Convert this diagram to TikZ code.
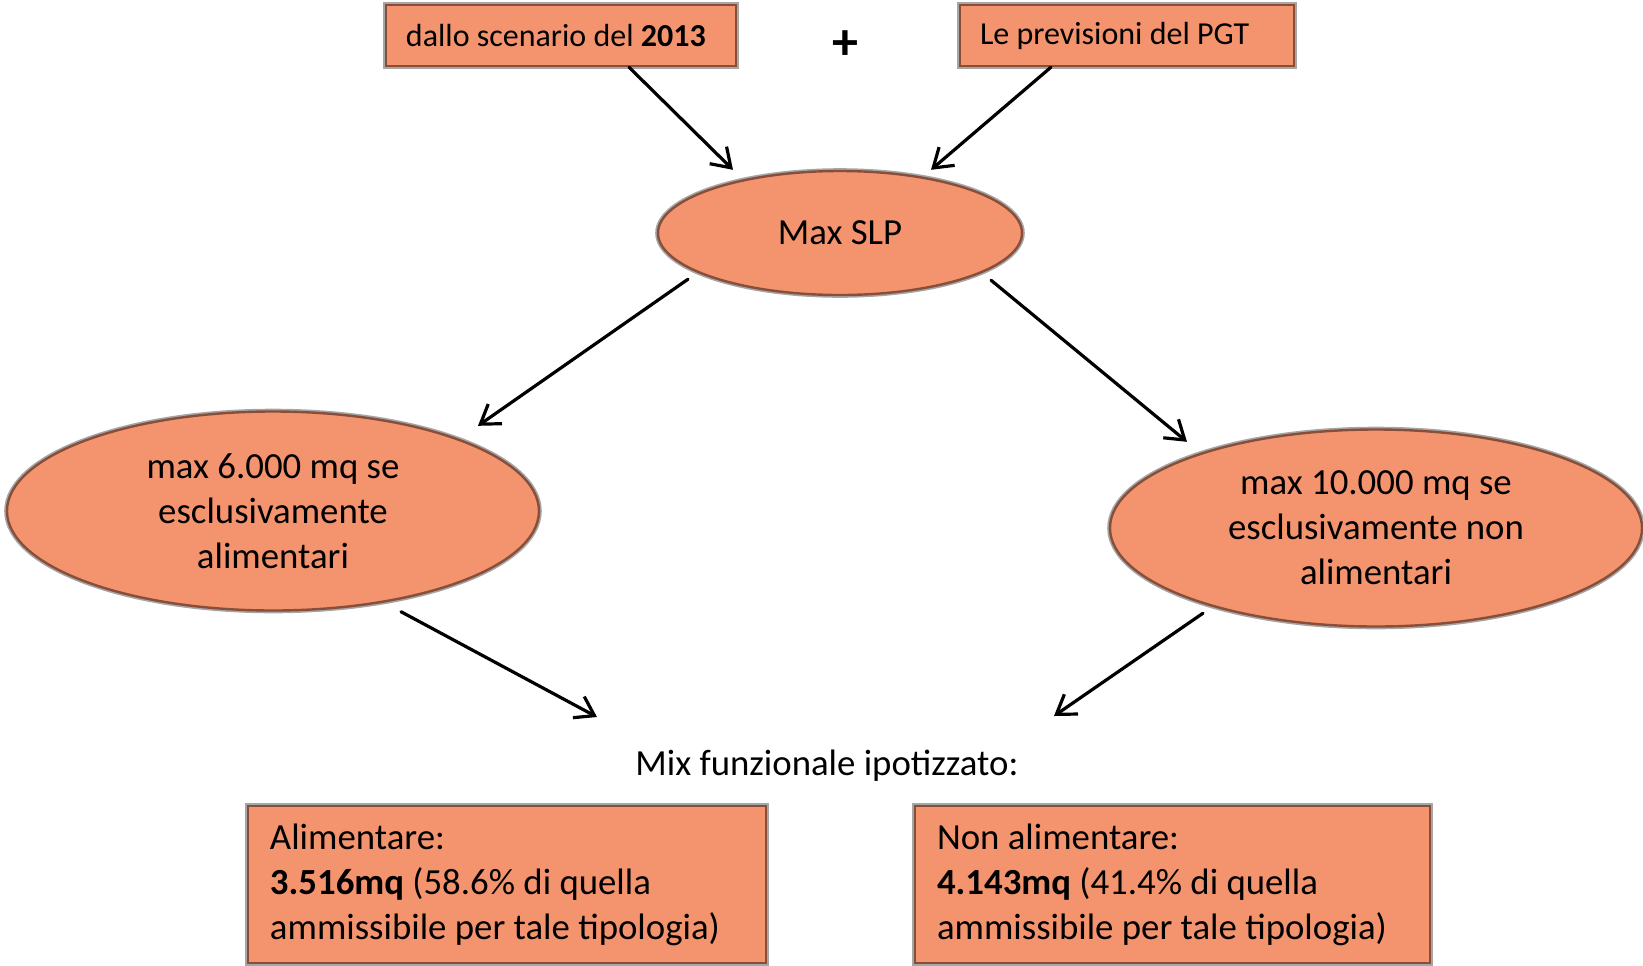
\documentclass[tikz,border=0pt]{standalone}
\usepackage{fontspec}
\setmainfont{Carlito}
\usetikzlibrary{positioning,arrows.meta,shapes.geometric}
\definecolor{salmon}{RGB}{244,148,110}
\definecolor{rim}{RGB}{135,78,58}

\begin{document}
\begin{tikzpicture}[
  on grid,
  font=\fontsize{18.4pt}{22.5pt}\selectfont,
  shaded/.style={fill=salmon, draw=rim, line width=1.2pt,
    preaction={draw=gray!70, line width=2.8pt}},
  ell/.style={shaded, ellipse, inner sep=0pt, align=center},
  box/.style={shaded, rectangle, inner ysep=0pt, inner xsep=10pt, align=flush left,
    execute at begin node={\spaceskip=0pt\xspaceskip=0pt\relax}},
  small/.style={font=\fontsize{16pt}{19pt}\selectfont},
  arr/.style={-{Straight Barb[length=9pt,width=12pt]}, line width=1.6pt, line cap=round},
]

  \useasboundingbox (-420pt,116.5pt) rectangle (401.5pt,-366pt);

  % Define nodes
  \node[ell, minimum width=182pt, minimum height=62pt] (slp) at (0,0) {Max SLP};
  \node[box, small, text width=155pt, minimum height=30.5pt,
        above left=98.75pt and 139.5pt of slp]  (dallo) {dallo scenario del \textbf{2013}};
  \node[box, small, text width=147pt, minimum height=30.5pt,
        above right=98.75pt and 143.5pt of slp] (pgt) {Le previsioni del PGT};
  \node[above=94pt of slp, xshift=2.5pt,
        font=\fontsize{26pt}{30pt}\selectfont\bfseries] (plus) {+};
  \node[ell, minimum width=266pt, minimum height=99.5pt,
        below left=139pt and 283.5pt of slp]    (alim) {max 6.000 mq se\\esclusivamente\\alimentari};
  \node[ell, minimum width=266pt, minimum height=98.5pt,
        below right=147.5pt and 268pt of slp]   (nonalim) {max 10.000 mq se\\esclusivamente non\\alimentari};
  \node[below=266.5pt of slp, xshift=-6.5pt]    (mix) {Mix funzionale ipotizzato:};
  \node[box, inner xsep=11pt, text width=237pt, minimum height=78.5pt,
        below left=325.75pt and 166.5pt of slp] (quotaA)
        {Alimentare:\\\textbf{3.516mq} (58.6\% di quella\\ammissibile per tale tipologia)};
  \node[box, inner xsep=11pt, text width=235.5pt, minimum height=78.5pt,
        below right=325.75pt and 166.25pt of slp] (quotaN)
        {Non alimentare:\\\textbf{4.143mq} (41.4\% di quella\\ammissibile per tale tipologia)};

  % Connect the nodes
  \draw[arr] ([xshift=34pt]dallo.south) -- ([xshift=-53.5pt]slp.north);
  \draw[arr] ([xshift=-38pt]pgt.south) -- ([xshift=45.5pt]slp.north);
  \draw[arr] ([shift={(-76pt,8.5pt)}]slp.south) -- ([shift={(102.5pt,-7.75pt)}]alim.north);
  \draw[arr] ([shift={(75.5pt,8pt)}]slp.south) -- ([shift={(-94.5pt,-6.75pt)}]nonalim.north);
  \draw[arr] ([xshift=64pt]alim.south) -- ([shift={(-115pt,24.5pt)}]mix.center);
  \draw[arr] ([shift={(-86.5pt,7.25pt)}]nonalim.south) -- ([shift={(113.5pt,25pt)}]mix.center);

\end{tikzpicture}
\end{document}
